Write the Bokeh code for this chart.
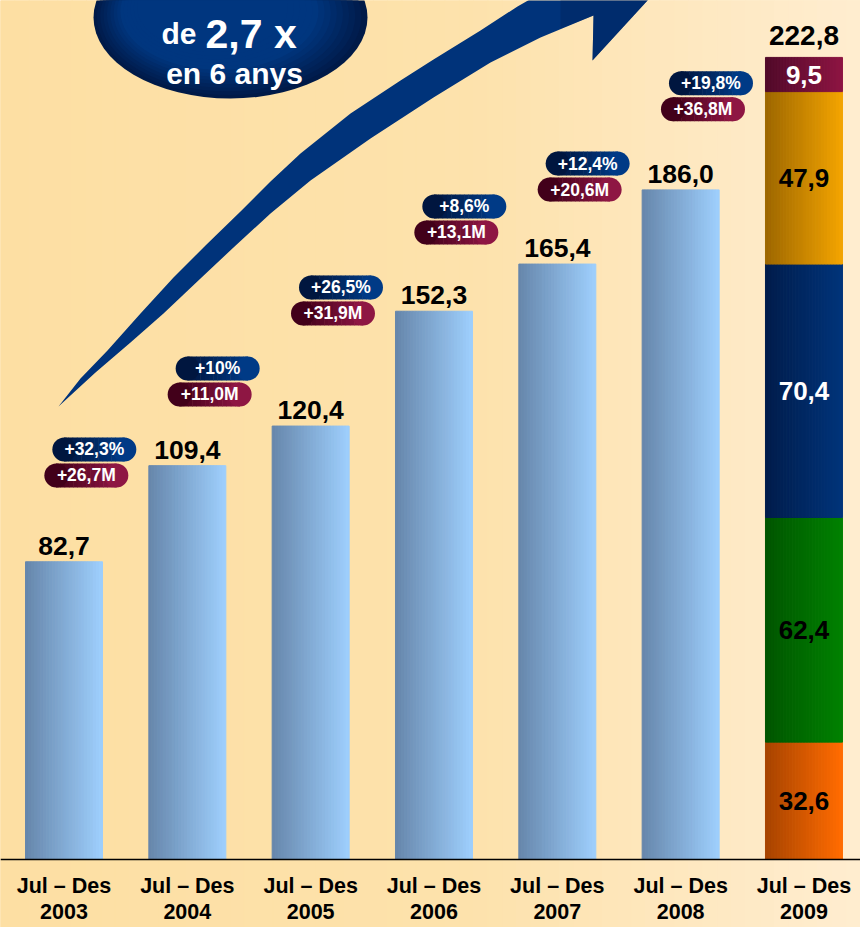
import numpy as np
from bokeh.plotting import figure
from bokeh.models import Range1d, FixedTicker
from bokeh.core.properties import value
from bokeh.embed import file_html
from bokeh.resources import INLINE

# ---------------- data ----------------
years = ["2003", "2004", "2005", "2006", "2007", "2008", "2009"]
period = "Jul – Des"
bar_totals = [82.7, 109.4, 120.4, 152.3, 165.4, 186.0]      # 2003-2008
total_2009 = 222.8
seg_2009 = [32.6, 62.4, 70.4, 47.9, 9.5]                     # stacked, bottom -> top
pct_growth = ["+32,3%", "+10%", "+26,5%", "+8,6%", "+12,4%", "+19,8%"]
abs_growth = ["+26,7M", "+11,0M", "+31,9M", "+13,1M", "+20,6M", "+36,8M"]
badge_y = [113.9, 136.4, 158.9, 181.4, 193.3, 215.6]         # placement of growth badges (value units)

# ---------------- layout ----------------
W, H = 860, 927
REF_W, REF_H = 860, 927
S = W / REF_W
PX = 123.33      # reference px per category step
PY = 3.6         # reference px per value unit
X0 = 63.5
BASE = 859
FONT = value("Liberation Sans")


def X(xr):
    return (xr - X0) / PX


def Y(yr):
    return (BASE - yr) / PY


def fs(px):
    return f"{px * S:.1f}px"


def hex2rgb(h):
    h = h.lstrip("#")
    return tuple(int(h[i:i + 2], 16) for i in (0, 2, 4))


def mix(c0, c1, t):
    a, b = hex2rgb(c0), hex2rgb(c1)
    return "#%02x%02x%02x" % tuple(round(a[j] + (b[j] - a[j]) * t) for j in range(3))


def fmt(v):
    return f"{v:.1f}".replace(".", ",")


BG_STOPS = [(0.0, "#FDDFA3"), (0.55, "#FDE2AC"), (0.8, "#FEE8C0"), (1.0, "#FFEDD0")]


def bg_color(t):
    for (t0, c0), (t1, c1) in zip(BG_STOPS[:-1], BG_STOPS[1:]):
        if t <= t1:
            return mix(c0, c1, (t - t0) / (t1 - t0))
    return BG_STOPS[-1][1]


p = figure(width=W, height=H,
           x_range=Range1d(X(0), X(REF_W)), y_range=Range1d(Y(REF_H), Y(0)),
           output_backend="svg", toolbar_location=None, min_border=0,
           outline_line_color=None, background_fill_color=BG_STOPS[0][1],
           border_fill_color=BG_STOPS[0][1])
p.grid.visible = False
p.yaxis.visible = False

# background gradient
NB = 60
edges = np.linspace(X(0), X(REF_W), NB + 1)
bgc = [bg_color((k + 0.5) / NB) for k in range(NB)]
p.quad(left=edges[:-1], right=edges[1:], bottom=Y(REF_H), top=Y(0),
       fill_color=bgc, line_color=bgc, line_width=1)

# ---------------- big arrow (decoration) ----------------
upper = [(58, 406), (80, 378), (107, 350), (140, 313), (173, 277), (205, 245), (240, 211),
         (270, 181), (300, 153), (350, 113), (400, 80), (433, 59), (480, 30), (517, 6), (545, -10)]
head = [(600, -45), (690, -45), (647, 0), (592, 60), (593, 15)]
lower = [(540, 37), (490, 62), (433, 97), (370, 138), (310, 180), (270, 213), (233, 247),
         (200, 278), (163, 313), (130, 342), (95, 372)]
pts = upper + head + lower
p.patch([X(a) for a, b in pts], [Y(b) for a, b in pts], fill_color="#00337A", line_color=None)
# darker shading toward the head
shade = [(560, -20), (690, -45), (647, 0), (592, 60), (593, 15), (560, 28)]
p.patch([X(a) for a, b in shade], [Y(b) for a, b in shade], fill_color="#002560",
        fill_alpha=0.5, line_color=None)

# ---------------- ellipse callout ----------------
NL = 14
for k in range(NL):
    t = k / (NL - 1)
    w = 274 * (1 - 0.45 * t)
    h = 162 * (1 - 0.45 * t)
    cx = 230 - 18 * t
    cy = 17 - 10 * t
    p.ellipse(x=X(cx), y=Y(cy), width=w / PX, height=h / PY,
              fill_color=mix("#001A48", "#00367F", min(1, t * 1.6)), line_color=None)

p.text(x=[X(196)], y=[Y(33)], text=["de"], text_align="right", text_baseline="alphabetic",
       text_font=FONT, text_font_style="bold", text_font_size=fs(30), text_color="white")
p.text(x=[X(205)], y=[Y(33)], text=["2,7 x"], text_align="left", text_baseline="alphabetic",
       text_font=FONT, text_font_style="bold", text_font_size=fs(41), text_color="white")
p.text(x=[X(234)], y=[Y(73)], text=["en 6 anys"], text_align="center", text_baseline="alphabetic",
       text_font=FONT, text_font_style="bold", text_font_size=fs(30), text_color="white")

# ---------------- bars ----------------
NSTR = 26
BAR_W = 77.0 / PX


def grad_bar(xc, bottom, top, c0, c1):
    xs = [xc - BAR_W / 2 + (k + 0.5) * BAR_W / NSTR for k in range(NSTR)]
    cols = [mix(c0, c1, k / (NSTR - 1)) for k in range(NSTR)]
    p.vbar(x=xs, width=BAR_W / NSTR, bottom=bottom, top=top,
           fill_color=cols, line_color=cols, line_width=1)


for i, v in enumerate(bar_totals):
    grad_bar(i, 0, v, "#6787AC", "#9DCEFC")

SEG_COLORS = [("#A84400", "#FF6B00"), ("#005600", "#008000"), ("#001C4C", "#003479"),
              ("#9E6800", "#F2A300"), ("#520A2A", "#8C1442")]
SEG_TEXT = ["black", "black", "white", "black", "white"]
cum = np.concatenate([[0], np.cumsum(seg_2009)])
for j, v in enumerate(seg_2009):
    grad_bar(6, cum[j], cum[j + 1], *SEG_COLORS[j])

# value labels
GAP = 16 / PY
p.text(x=list(range(len(bar_totals))), y=[v + GAP for v in bar_totals],
       text=[fmt(v) for v in bar_totals], text_align="center", text_baseline="alphabetic",
       text_font=FONT, text_font_style="bold", text_font_size=fs(26.5), text_color="black")
p.text(x=[6], y=[total_2009 + 22 / PY], text=[fmt(total_2009)], text_align="center",
       text_baseline="alphabetic", text_font=FONT, text_font_style="bold",
       text_font_size=fs(28), text_color="black")
p.text(x=[6] * len(seg_2009), y=list((cum[:-1] + cum[1:]) / 2),
       text=[fmt(v) for v in seg_2009], text_align="center", text_baseline="middle",
       text_font=FONT, text_font_style="bold", text_font_size=fs(26), text_color=SEG_TEXT)

# ---------------- growth badges ----------------
PILL_W, PILL_H = 84, 24
NP = 14


def pill(xc, yc, c0, c1):
    body = (PILL_W - PILL_H) / PX
    xs = [xc - body / 2 + (k + 0.5) * body / NP for k in range(NP)]
    cols = [mix(c0, c1, (k + 0.5) / NP) for k in range(NP)]
    p.rect(x=xs, y=[yc] * NP, width=body / NP * 1.12, height=PILL_H / PY,
           fill_color=cols, line_color=None)
    p.scatter(x=[xc - body / 2, xc + body / 2], y=[yc, yc], size=PILL_H * S,
              marker="circle", fill_color=[c0, c1], line_color=None)


bx = [i + 1 - 93 / PX for i in range(len(pct_growth))]
mx = [x - 8 / PX for x in bx]
my = [y - 26 / PY for y in badge_y]
for i in range(len(pct_growth)):
    pill(bx[i], badge_y[i], "#00163F", "#003A86")
    pill(mx[i], my[i], "#42001A", "#8E1643")
p.text(x=bx, y=badge_y, text=pct_growth, text_align="center", text_baseline="middle",
       text_font=FONT, text_font_style="bold", text_font_size=fs(17.5), text_color="white")
p.text(x=mx, y=my, text=abs_growth, text_align="center", text_baseline="middle",
       text_font=FONT, text_font_style="bold", text_font_size=fs(17.5), text_color="white")

# ---------------- x axis ----------------
xa = p.xaxis[0]
xa.fixed_location = 0
xa.ticker = FixedTicker(ticks=list(range(len(years))))
xa.major_label_overrides = {i: f"{period}\n{y}" for i, y in enumerate(years)}
xa.major_tick_line_color = None
xa.minor_tick_line_color = None
xa.axis_line_color = "black"
xa.axis_line_width = 1.5
xa.major_label_standoff = 8
xa.major_label_text_font = "Liberation Sans"
xa.major_label_text_font_style = "bold"
xa.major_label_text_font_size = fs(21.5)
xa.major_label_text_line_height = 1.1
xa.major_label_text_color = "black"

open("out.html", "w").write(file_html(p, INLINE))
